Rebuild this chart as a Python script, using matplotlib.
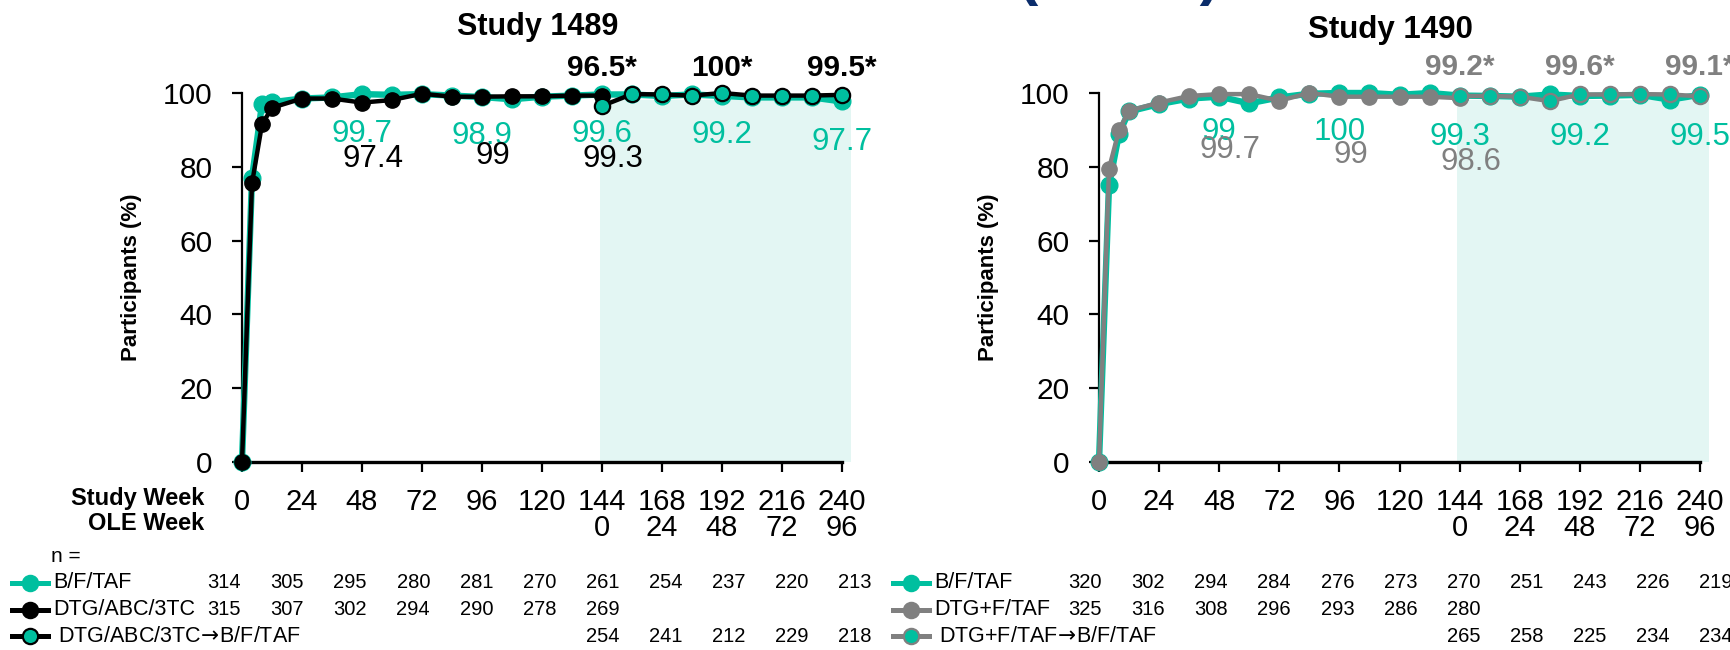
import numpy as np
import matplotlib.pyplot as plt
from matplotlib.lines import Line2D

plt.rcParams['font.family'] = ['Liberation Sans', 'DejaVu Sans']

# colours
TEAL = '#00BF9F'
GREY = '#808080'
SHADE = '#E3F6F3'
NAVY = '#0B2D6B'

W, H = 1730, 650

# visit weeks
weeks = [0, 4, 8, 12, 24, 36, 48, 60, 72, 84, 96, 108, 120, 132, 144,
         156, 168, 180, 192, 204, 216, 228, 240]
rand_weeks = weeks[:15]
ole_weeks = weeks[14:]

x_ticks = [0, 24, 48, 72, 96, 120, 144, 168, 192, 216, 240]
x_ticklabels = ['0', '24', '48', '72', '96', '120',
                '144\n0', '168\n24', '192\n48', '216\n72', '240\n96']

# Study 1489 (% participants)
bft_1489 = [0, 77, 97, 97.5, 98.5, 98.8, 99.7, 99.5, 99.7, 99.3, 98.9, 98.3, 99, 99.3, 99.6,
            99.6, 99.2, 99.6, 99.2, 98.8, 98.8, 98.8, 97.7]
dtg_1489 = [0, 75.5, 91.5, 96, 98.5, 98.5, 97.4, 98.1, 99.8, 99, 99, 99.1, 99.1, 99.3, 99.3]
ole_1489 = [96.5, 99.7, 99.6, 99.3, 100, 99.3, 99.3, 99.3, 99.5]

# Study 1490 (% participants)
bft_1490 = [0, 75, 89, 95, 97, 98.5, 99, 97.2, 98.8, 99.8, 100, 100, 99.5, 100, 99.3,
            99.2, 99, 99.6, 99.2, 99.3, 99.5, 98.2, 99.5]
dtg_1490 = [0, 79.5, 90, 95.2, 97.4, 99.2, 99.7, 99.7, 97.9, 100, 99, 99, 99, 99, 98.6]
ole_1490 = [99.2, 99.2, 99, 97.8, 99.6, 99.6, 99.7, 99.6, 99.1]

# weeks that carry value labels
lab_weeks_main = [48, 96, 144, 192, 240]
lab_weeks_rand = [48, 96, 144]
lab_weeks_ole = [144, 192, 240]

# participants at each 24-week visit
n_bft_1489 = [314, 305, 295, 280, 281, 270, 261, 254, 237, 220, 213]
n_dtg_1489 = [315, 307, 302, 294, 290, 278, 269]
n_ole_1489 = [254, 241, 212, 229, 218]
n_bft_1490 = [320, 302, 294, 284, 276, 273, 270, 251, 243, 226, 219]
n_dtg_1490 = [325, 316, 308, 296, 293, 286, 280]
n_ole_1490 = [265, 258, 225, 234, 234]


def fmt(v):
    return f'{v:g}'


def px_box(x0, x1, ytop, ybot):
    return [x0 / W, 1 - ybot / H, (x1 - x0) / W, (ybot - ytop) / H]


fig = plt.figure(figsize=(W / 100, H / 100), dpi=100)
ax1 = fig.add_axes(px_box(242, 842, 93, 462))
ax2 = fig.add_axes(px_box(1099, 1700, 93, 462))


def style_axes(ax):
    ax.set_xlim(0, 240)
    ax.set_ylim(0, 100)
    ax.spines['top'].set_visible(False)
    ax.spines['right'].set_visible(False)
    ax.spines['left'].set_linewidth(1.6)
    ax.spines['bottom'].set_linewidth(2.4)
    ax.set_yticks(range(0, 101, 20))
    ax.set_xticks(x_ticks)
    ax.set_xticklabels(x_ticklabels, linespacing=0.92)
    ax.tick_params(axis='y', direction='out', length=7, width=1.6, labelsize=21.5, pad=14)
    ax.tick_params(axis='x', direction='out', length=7, width=1.6, labelsize=21, pad=11.5)
    ax.fill_between([143, 243.5], 0, 98, color=SHADE, lw=0, zorder=0, clip_on=False)


def draw_study(ax, bft, comp, ole, comp_color, ole_edge):
    ax.plot(weeks, bft, color=TEAL, lw=4.6, marker='o', ms=12, mfc=TEAL, mec=TEAL,
            zorder=3, clip_on=False)
    ax.plot(rand_weeks, comp, color=comp_color, lw=3.2, marker='o', ms=11,
            mfc=comp_color, mec=comp_color, zorder=4, clip_on=False)
    ax.plot(ole_weeks, ole, color=ole_edge, lw=3.2, marker='o', ms=11,
            mfc=TEAL, mec=ole_edge, mew=1.6, zorder=5, clip_on=False)


def value_labels(ax, bft, comp, ole, comp_color, comp_y, bft_y, bold_y, bold_color):
    for wk, y in zip(lab_weeks_main, bft_y):
        ax.text(wk, y, fmt(bft[weeks.index(wk)]), color=TEAL, fontsize=22.5,
                ha='center', va='center', zorder=6, clip_on=False)
    for wk, y in zip(lab_weeks_rand, comp_y):
        ax.text(wk + 4.5, y, fmt(comp[rand_weeks.index(wk)]), color=comp_color,
                fontsize=22.5, ha='center', va='center', zorder=6, clip_on=False)
    for wk in lab_weeks_ole:
        ax.text(wk, bold_y, fmt(ole[ole_weeks.index(wk)]) + '*', color=bold_color,
                fontsize=21.5, fontweight='bold', ha='center', va='center', zorder=6,
                clip_on=False)


style_axes(ax1)
style_axes(ax2)

draw_study(ax1, bft_1489, dtg_1489, ole_1489, 'black', 'black')
draw_study(ax2, bft_1490, dtg_1490, ole_1490, GREY, GREY)

value_labels(ax1, bft_1489, dtg_1489, ole_1489, 'black',
             [82.1, 82.9, 82.1], [88.9, 88.3, 88.9, 88.6, 86.7], 106.8, 'black')
value_labels(ax2, bft_1490, dtg_1490, ole_1490, GREY,
             [84.6, 83.2, 81.2], [89.5, 89.3, 88.2, 88.2, 88.2], 107, GREY)

# panel titles and axis labels
fig.text(538 / W, 1 - 27 / H, 'Study 1489', ha='center', va='center',
         fontsize=22, fontweight='bold')
fig.text(1390 / W, 1 - 30 / H, 'Study 1490', ha='center', va='center',
         fontsize=22.5, fontweight='bold')
for xc in (132, 989):
    fig.text(xc / W, 1 - 277 / H, 'Participants (%)', rotation=90, ha='center',
             va='center', fontsize=16, fontweight='bold')
fig.text(204 / W, 1 - 498 / H, 'Study Week', ha='right', va='center',
         fontsize=17, fontweight='bold')
fig.text(204 / W, 1 - 524 / H, 'OLE Week', ha='right', va='center',
         fontsize=17, fontweight='bold')

# slide heading running off the top edge
fig.text(1119 / W, 1 + 7 / H, '(M = E)', ha='center', va='baseline', color=NAVY,
         fontsize=44, fontweight='bold')

# n = table under each panel
fig.text(66 / W, 1 - 557 / H, 'n =', ha='center', va='center', fontsize=15)
row_y = [583, 609.5, 636]
ARROW = r'$\!\rightarrow\!$'


def n_table(x_legend, x_cols, names, counts, starts, line_colors, marker_faces, marker_edges):
    cols = np.linspace(x_cols[0], x_cols[1], 11)
    for name, vals, start, lc, mf, me, y in zip(names, counts, starts, line_colors,
                                                marker_faces, marker_edges, row_y):
        yf = 1 - y / H
        x0, x1 = x_legend / W, (x_legend + 36) / W
        fig.add_artist(Line2D([x0, x1], [yf, yf], color=lc, lw=3.6,
                              transform=fig.transFigure))
        fig.add_artist(Line2D([(x0 + x1) / 2], [yf], marker='o', ms=11,
                              mfc=mf, mec=me, mew=1.6, transform=fig.transFigure))
        pad = 10 if start else 5
        fig.text((x_legend + 36 + pad) / W, yf, name, ha='left', va='center',
                 fontsize=15.5)
        for i, v in enumerate(vals):
            fig.text(cols[start + i] / W, yf, str(v), ha='center', va='center',
                     fontsize=14.5)


n_table(12, (224, 855),
        ['B/F/TAF', 'DTG/ABC/3TC', 'DTG/ABC/3TC' + ARROW + 'B/F/TAF'],
        [n_bft_1489, n_dtg_1489, n_ole_1489], [0, 0, 6],
        [TEAL, 'black', 'black'], [TEAL, 'black', TEAL], [TEAL, 'black', 'black'])
n_table(893, (1085, 1716),
        ['B/F/TAF', 'DTG+F/TAF', 'DTG+F/TAF' + ARROW + 'B/F/TAF'],
        [n_bft_1490, n_dtg_1490, n_ole_1490], [0, 0, 6],
        [TEAL, GREY, GREY], [TEAL, GREY, TEAL], [TEAL, GREY, GREY])

fig.savefig('out.png', dpi=100)
